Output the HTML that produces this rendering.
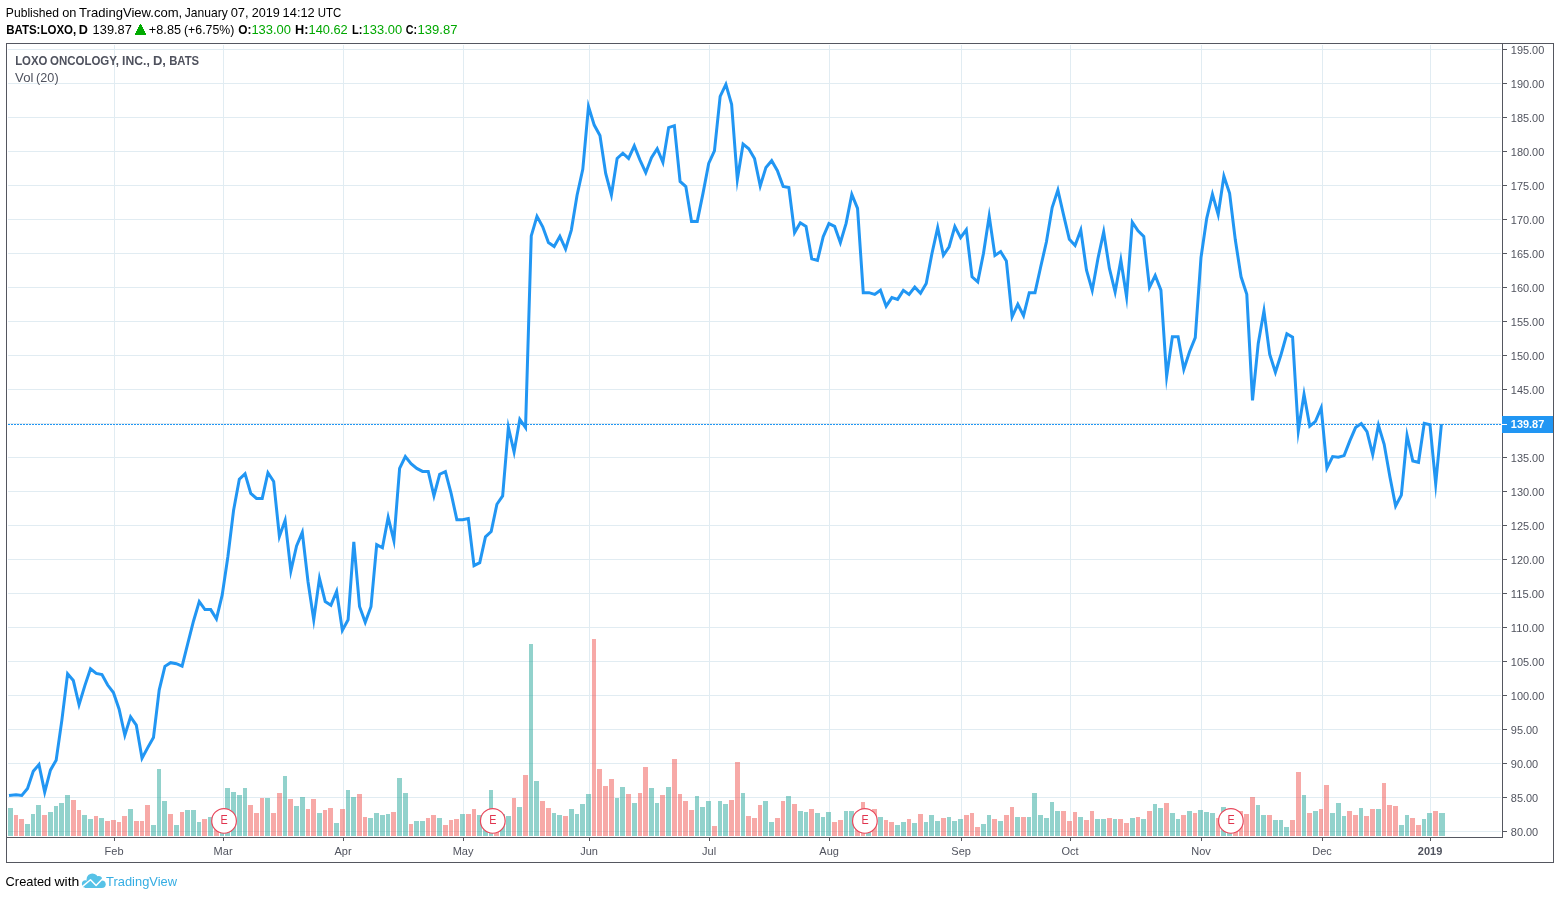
<!DOCTYPE html>
<html lang="en"><head><meta charset="utf-8"><title>LOXO ONCOLOGY, INC. - TradingView</title>
<style>
html,body{margin:0;padding:0;background:#fff;}
body{width:1560px;height:899px;overflow:hidden;font-family:"Liberation Sans",sans-serif;}
svg{display:block;position:absolute;left:0;top:0;}
text{font-family:"Liberation Sans",sans-serif;}
.hd{font-size:12.4px;fill:#000;}
.b{font-weight:bold;}
.g{fill:#089a08;}
.ax{font-size:11px;fill:#50535e;}
.lg{font-size:12.2px;fill:#555;}
</style></head><body>
<svg width="1560" height="899" viewBox="0 0 1560 899">
<rect width="1560" height="899" fill="#fff"/>
<g shape-rendering="crispEdges" fill="#e1ecf2"><rect x="8" y="49" width="1493" height="1"/><rect x="8" y="83" width="1493" height="1"/><rect x="8" y="117" width="1493" height="1"/><rect x="8" y="151" width="1493" height="1"/><rect x="8" y="185" width="1493" height="1"/><rect x="8" y="219" width="1493" height="1"/><rect x="8" y="253" width="1493" height="1"/><rect x="8" y="287" width="1493" height="1"/><rect x="8" y="321" width="1493" height="1"/><rect x="8" y="355" width="1493" height="1"/><rect x="8" y="389" width="1493" height="1"/><rect x="8" y="423" width="1493" height="1"/><rect x="8" y="457" width="1493" height="1"/><rect x="8" y="491" width="1493" height="1"/><rect x="8" y="525" width="1493" height="1"/><rect x="8" y="559" width="1493" height="1"/><rect x="8" y="593" width="1493" height="1"/><rect x="8" y="627" width="1493" height="1"/><rect x="8" y="661" width="1493" height="1"/><rect x="8" y="695" width="1493" height="1"/><rect x="8" y="729" width="1493" height="1"/><rect x="8" y="763" width="1493" height="1"/><rect x="8" y="797" width="1493" height="1"/><rect x="8" y="831" width="1493" height="1"/><rect x="114" y="45" width="1" height="791"/><rect x="223" y="45" width="1" height="791"/><rect x="343" y="45" width="1" height="791"/><rect x="463" y="45" width="1" height="791"/><rect x="589" y="45" width="1" height="791"/><rect x="709" y="45" width="1" height="791"/><rect x="829" y="45" width="1" height="791"/><rect x="961" y="45" width="1" height="791"/><rect x="1070" y="45" width="1" height="791"/><rect x="1201" y="45" width="1" height="791"/><rect x="1322" y="45" width="1" height="791"/><rect x="1430" y="45" width="1" height="791"/></g>
<g shape-rendering="crispEdges" fill="#26a69a" fill-opacity="0.5"><rect x="8" y="808" width="5" height="28"/><rect x="25" y="824" width="5" height="12"/><rect x="31" y="814" width="4" height="22"/><rect x="36" y="805" width="5" height="31"/><rect x="48" y="812" width="5" height="24"/><rect x="54" y="806" width="4" height="30"/><rect x="59" y="803" width="5" height="33"/><rect x="65" y="795" width="5" height="41"/><rect x="82" y="815" width="5" height="21"/><rect x="88" y="819" width="5" height="17"/><rect x="99" y="818" width="5" height="18"/><rect x="128" y="809" width="5" height="27"/><rect x="151" y="825" width="5" height="11"/><rect x="157" y="769" width="4" height="67"/><rect x="162" y="801" width="5" height="35"/><rect x="174" y="825" width="5" height="11"/><rect x="185" y="810" width="5" height="26"/><rect x="191" y="810" width="5" height="26"/><rect x="197" y="822" width="4" height="14"/><rect x="208" y="817" width="5" height="19"/><rect x="220" y="818" width="4" height="18"/><rect x="225" y="788" width="5" height="48"/><rect x="231" y="792" width="5" height="44"/><rect x="237" y="795" width="5" height="41"/><rect x="243" y="788" width="4" height="48"/><rect x="265" y="798" width="5" height="38"/><rect x="283" y="776" width="4" height="60"/><rect x="294" y="806" width="5" height="30"/><rect x="300" y="797" width="5" height="39"/><rect x="317" y="813" width="5" height="23"/><rect x="334" y="823" width="5" height="13"/><rect x="346" y="790" width="4" height="46"/><rect x="351" y="797" width="5" height="39"/><rect x="368" y="818" width="5" height="18"/><rect x="374" y="813" width="5" height="23"/><rect x="380" y="815" width="5" height="21"/><rect x="386" y="814" width="4" height="22"/><rect x="397" y="778" width="5" height="58"/><rect x="403" y="793" width="5" height="43"/><rect x="414" y="821" width="5" height="15"/><rect x="420" y="821" width="5" height="15"/><rect x="437" y="818" width="5" height="18"/><rect x="460" y="814" width="5" height="22"/><rect x="477" y="815" width="5" height="21"/><rect x="483" y="816" width="5" height="20"/><rect x="489" y="790" width="4" height="46"/><rect x="500" y="814" width="5" height="22"/><rect x="506" y="816" width="5" height="20"/><rect x="517" y="807" width="5" height="29"/><rect x="529" y="644" width="4" height="192"/><rect x="534" y="781" width="5" height="55"/><rect x="552" y="813" width="4" height="23"/><rect x="557" y="815" width="5" height="21"/><rect x="569" y="809" width="5" height="27"/><rect x="575" y="814" width="4" height="22"/><rect x="580" y="804" width="5" height="32"/><rect x="586" y="794" width="5" height="42"/><rect x="615" y="798" width="4" height="38"/><rect x="620" y="787" width="5" height="49"/><rect x="632" y="803" width="5" height="33"/><rect x="649" y="788" width="5" height="48"/><rect x="655" y="803" width="4" height="33"/><rect x="666" y="787" width="5" height="49"/><rect x="695" y="796" width="4" height="40"/><rect x="700" y="807" width="5" height="29"/><rect x="706" y="801" width="5" height="35"/><rect x="718" y="801" width="4" height="35"/><rect x="723" y="804" width="5" height="32"/><rect x="741" y="793" width="4" height="43"/><rect x="763" y="801" width="5" height="35"/><rect x="769" y="822" width="5" height="14"/><rect x="786" y="796" width="5" height="40"/><rect x="798" y="811" width="5" height="25"/><rect x="804" y="812" width="4" height="24"/><rect x="815" y="813" width="5" height="23"/><rect x="821" y="817" width="4" height="19"/><rect x="826" y="812" width="5" height="24"/><rect x="844" y="811" width="4" height="25"/><rect x="849" y="811" width="5" height="25"/><rect x="866" y="818" width="5" height="18"/><rect x="878" y="817" width="5" height="19"/><rect x="895" y="825" width="5" height="11"/><rect x="901" y="822" width="5" height="14"/><rect x="912" y="823" width="5" height="13"/><rect x="924" y="822" width="4" height="14"/><rect x="929" y="815" width="5" height="21"/><rect x="935" y="821" width="5" height="15"/><rect x="947" y="817" width="4" height="19"/><rect x="952" y="821" width="5" height="15"/><rect x="958" y="819" width="5" height="17"/><rect x="981" y="824" width="5" height="12"/><rect x="987" y="815" width="4" height="21"/><rect x="998" y="821" width="5" height="15"/><rect x="1015" y="817" width="5" height="19"/><rect x="1027" y="817" width="4" height="19"/><rect x="1032" y="793" width="5" height="43"/><rect x="1038" y="815" width="5" height="21"/><rect x="1044" y="818" width="5" height="18"/><rect x="1050" y="802" width="4" height="34"/><rect x="1055" y="811" width="5" height="25"/><rect x="1078" y="817" width="5" height="19"/><rect x="1095" y="819" width="5" height="17"/><rect x="1101" y="819" width="5" height="17"/><rect x="1113" y="819" width="4" height="17"/><rect x="1130" y="818" width="5" height="18"/><rect x="1141" y="819" width="5" height="17"/><rect x="1153" y="804" width="4" height="32"/><rect x="1158" y="808" width="5" height="28"/><rect x="1170" y="813" width="5" height="23"/><rect x="1176" y="819" width="4" height="17"/><rect x="1187" y="811" width="5" height="25"/><rect x="1198" y="810" width="5" height="26"/><rect x="1204" y="812" width="5" height="24"/><rect x="1210" y="813" width="5" height="23"/><rect x="1221" y="807" width="5" height="29"/><rect x="1227" y="816" width="5" height="20"/><rect x="1256" y="805" width="4" height="31"/><rect x="1261" y="815" width="5" height="21"/><rect x="1273" y="820" width="5" height="16"/><rect x="1279" y="820" width="4" height="16"/><rect x="1284" y="827" width="5" height="9"/><rect x="1302" y="795" width="4" height="41"/><rect x="1313" y="811" width="5" height="25"/><rect x="1330" y="813" width="5" height="23"/><rect x="1336" y="803" width="5" height="33"/><rect x="1342" y="816" width="4" height="20"/><rect x="1359" y="808" width="4" height="28"/><rect x="1376" y="809" width="5" height="27"/><rect x="1399" y="825" width="5" height="11"/><rect x="1405" y="815" width="4" height="21"/><rect x="1422" y="819" width="4" height="17"/><rect x="1427" y="813" width="5" height="23"/><rect x="1439" y="813" width="6" height="23"/></g>
<g shape-rendering="crispEdges" fill="#ef5350" fill-opacity="0.5"><rect x="14" y="815" width="4" height="21"/><rect x="19" y="819" width="5" height="17"/><rect x="42" y="815" width="5" height="21"/><rect x="71" y="800" width="5" height="36"/><rect x="77" y="810" width="4" height="26"/><rect x="94" y="816" width="4" height="20"/><rect x="105" y="821" width="5" height="15"/><rect x="111" y="820" width="5" height="16"/><rect x="117" y="822" width="4" height="14"/><rect x="122" y="816" width="5" height="20"/><rect x="134" y="821" width="5" height="15"/><rect x="140" y="821" width="4" height="15"/><rect x="145" y="805" width="5" height="31"/><rect x="168" y="814" width="5" height="22"/><rect x="180" y="812" width="4" height="24"/><rect x="202" y="819" width="5" height="17"/><rect x="214" y="820" width="5" height="16"/><rect x="248" y="805" width="5" height="31"/><rect x="254" y="813" width="5" height="23"/><rect x="260" y="798" width="4" height="38"/><rect x="271" y="813" width="5" height="23"/><rect x="277" y="793" width="5" height="43"/><rect x="288" y="799" width="5" height="37"/><rect x="306" y="809" width="4" height="27"/><rect x="311" y="799" width="5" height="37"/><rect x="323" y="810" width="4" height="26"/><rect x="328" y="808" width="5" height="28"/><rect x="340" y="809" width="5" height="27"/><rect x="357" y="794" width="5" height="42"/><rect x="363" y="817" width="4" height="19"/><rect x="391" y="812" width="5" height="24"/><rect x="409" y="824" width="4" height="12"/><rect x="426" y="818" width="4" height="18"/><rect x="431" y="815" width="5" height="21"/><rect x="443" y="825" width="5" height="11"/><rect x="449" y="820" width="4" height="16"/><rect x="454" y="819" width="5" height="17"/><rect x="466" y="814" width="5" height="22"/><rect x="472" y="809" width="4" height="27"/><rect x="494" y="818" width="5" height="18"/><rect x="512" y="798" width="4" height="38"/><rect x="523" y="775" width="5" height="61"/><rect x="540" y="801" width="5" height="35"/><rect x="546" y="808" width="5" height="28"/><rect x="563" y="816" width="5" height="20"/><rect x="592" y="639" width="4" height="197"/><rect x="597" y="769" width="5" height="67"/><rect x="603" y="786" width="5" height="50"/><rect x="609" y="779" width="5" height="57"/><rect x="626" y="794" width="5" height="42"/><rect x="638" y="793" width="4" height="43"/><rect x="643" y="767" width="5" height="69"/><rect x="660" y="795" width="5" height="41"/><rect x="672" y="759" width="5" height="77"/><rect x="678" y="794" width="4" height="42"/><rect x="683" y="801" width="5" height="35"/><rect x="689" y="810" width="5" height="26"/><rect x="712" y="826" width="5" height="10"/><rect x="729" y="800" width="5" height="36"/><rect x="735" y="762" width="5" height="74"/><rect x="746" y="816" width="5" height="20"/><rect x="752" y="818" width="5" height="18"/><rect x="758" y="805" width="4" height="31"/><rect x="775" y="818" width="5" height="18"/><rect x="781" y="801" width="4" height="35"/><rect x="792" y="804" width="5" height="32"/><rect x="809" y="809" width="5" height="27"/><rect x="832" y="822" width="5" height="14"/><rect x="838" y="820" width="5" height="16"/><rect x="855" y="816" width="5" height="20"/><rect x="861" y="802" width="4" height="34"/><rect x="872" y="809" width="5" height="27"/><rect x="884" y="820" width="4" height="16"/><rect x="889" y="822" width="5" height="14"/><rect x="907" y="819" width="4" height="17"/><rect x="918" y="814" width="5" height="22"/><rect x="941" y="818" width="5" height="18"/><rect x="964" y="815" width="5" height="21"/><rect x="970" y="813" width="4" height="23"/><rect x="975" y="827" width="5" height="9"/><rect x="992" y="819" width="5" height="17"/><rect x="1004" y="815" width="5" height="21"/><rect x="1010" y="807" width="4" height="29"/><rect x="1021" y="817" width="5" height="19"/><rect x="1061" y="811" width="5" height="25"/><rect x="1067" y="821" width="5" height="15"/><rect x="1073" y="812" width="4" height="24"/><rect x="1084" y="820" width="5" height="16"/><rect x="1090" y="811" width="4" height="25"/><rect x="1107" y="818" width="5" height="18"/><rect x="1118" y="819" width="5" height="17"/><rect x="1124" y="823" width="5" height="13"/><rect x="1136" y="817" width="4" height="19"/><rect x="1147" y="811" width="5" height="25"/><rect x="1164" y="803" width="5" height="33"/><rect x="1181" y="815" width="5" height="21"/><rect x="1193" y="813" width="4" height="23"/><rect x="1216" y="818" width="4" height="18"/><rect x="1233" y="815" width="5" height="21"/><rect x="1239" y="811" width="4" height="25"/><rect x="1244" y="814" width="5" height="22"/><rect x="1250" y="797" width="5" height="39"/><rect x="1267" y="815" width="5" height="21"/><rect x="1290" y="820" width="5" height="16"/><rect x="1296" y="772" width="5" height="64"/><rect x="1307" y="813" width="5" height="23"/><rect x="1319" y="809" width="4" height="27"/><rect x="1324" y="785" width="5" height="51"/><rect x="1347" y="811" width="5" height="25"/><rect x="1353" y="815" width="5" height="21"/><rect x="1364" y="816" width="5" height="20"/><rect x="1370" y="809" width="5" height="27"/><rect x="1382" y="783" width="4" height="53"/><rect x="1387" y="805" width="5" height="31"/><rect x="1393" y="806" width="5" height="30"/><rect x="1410" y="818" width="5" height="18"/><rect x="1416" y="825" width="5" height="11"/><rect x="1433" y="811" width="5" height="25"/></g>
<line x1="8" y1="424.5" x2="1501" y2="424.5" stroke="#2196f3" stroke-width="1" stroke-dasharray="2 1" shape-rendering="crispEdges"/>
<path d="M9.00 795.52 L16.08 794.66 L21.81 795.39 L27.53 788.51 L33.26 771.32 L38.98 764.62 L44.71 792.17 L50.43 770.15 L56.15 760.14 L61.88 720.09 L67.60 673.87 L73.33 680.54 L79.05 704.74 L84.77 685.88 L90.50 668.85 L96.22 673.36 L101.95 674.53 L107.67 685.04 L113.40 692.55 L119.12 709.24 L124.84 735.21 L130.57 716.80 L136.29 725.10 L142.02 758.18 L147.74 747.63 L153.46 737.61 L159.19 690.05 L164.91 666.35 L170.64 662.66 L176.36 663.68 L182.09 666.20 L187.81 643.49 L193.53 620.96 L199.26 601.63 L204.98 609.61 L210.71 609.61 L216.43 618.87 L222.16 595.10 L227.88 556.71 L233.60 510.12 L239.33 479.24 L245.05 473.79 L250.78 493.43 L256.50 498.43 L262.22 498.43 L267.95 472.76 L273.67 481.41 L279.40 536.39 L285.12 520.32 L290.85 570.97 L296.57 545.99 L302.29 532.41 L308.02 581.75 L313.74 619.72 L319.47 578.36 L325.19 601.44 L330.92 605.16 L336.64 591.43 L342.36 630.37 L348.09 619.79 L353.81 541.94 L359.54 606.44 L365.26 622.28 L370.98 606.78 L376.71 544.60 L382.43 547.71 L388.16 517.36 L393.88 540.56 L399.61 468.40 L405.33 456.60 L411.05 463.72 L416.78 468.40 L422.50 471.40 L428.23 471.40 L433.95 495.76 L439.68 474.24 L445.40 471.58 L451.12 493.43 L456.85 519.63 L462.57 519.63 L468.30 518.46 L474.02 565.67 L479.74 562.68 L485.47 536.82 L491.19 531.48 L496.92 504.27 L502.64 495.93 L508.37 427.39 L514.09 452.08 L519.81 419.26 L525.54 427.60 L531.26 235.93 L536.99 216.36 L542.71 226.75 L548.43 242.61 L554.16 246.54 L559.88 236.27 L565.61 249.01 L571.33 230.09 L577.06 195.20 L582.78 169.31 L588.50 106.50 L594.23 125.08 L599.95 135.43 L605.68 173.48 L611.40 194.95 L617.13 158.46 L622.85 153.25 L628.57 158.47 L634.30 145.84 L640.02 160.13 L645.75 172.69 L651.47 157.63 L657.19 148.68 L662.92 162.29 L668.64 127.59 L674.37 125.67 L680.09 181.49 L685.82 186.50 L691.54 221.41 L697.26 221.41 L702.99 193.38 L708.71 163.47 L714.44 150.95 L720.16 96.38 L725.88 84.41 L731.61 104.22 L737.33 179.55 L743.06 144.16 L748.78 148.78 L754.51 158.46 L760.23 185.97 L765.95 167.41 L771.68 160.70 L777.40 170.66 L783.13 186.35 L788.85 187.60 L794.58 232.58 L800.30 222.76 L806.02 226.42 L811.75 258.79 L817.47 260.48 L823.20 236.77 L828.92 223.55 L834.64 226.42 L840.37 242.69 L846.09 223.41 L851.82 194.40 L857.54 208.40 L863.27 292.67 L868.99 292.67 L874.71 294.34 L880.44 290.17 L886.16 306.20 L891.89 297.60 L897.61 299.42 L903.34 290.39 L909.06 294.52 L914.78 287.18 L920.51 293.34 L926.23 283.49 L931.96 253.45 L937.68 227.72 L943.40 255.26 L949.13 246.78 L954.85 226.52 L960.58 237.65 L966.30 229.77 L972.03 276.82 L977.75 281.89 L983.47 253.45 L989.20 216.05 L994.92 255.42 L1000.65 251.62 L1006.37 260.95 L1012.09 316.85 L1017.82 304.29 L1023.54 315.73 L1029.27 292.66 L1034.99 292.66 L1040.72 266.79 L1046.44 241.76 L1052.16 207.55 L1057.89 190.06 L1063.61 215.06 L1069.34 239.26 L1075.06 245.51 L1080.79 230.14 L1086.51 270.13 L1092.23 290.40 L1097.96 258.45 L1103.68 231.92 L1109.41 268.46 L1115.13 292.08 L1120.85 260.18 L1126.58 296.84 L1132.30 222.19 L1138.03 230.91 L1143.75 236.42 L1149.48 287.34 L1155.20 275.48 L1160.92 290.15 L1166.65 376.50 L1172.37 336.74 L1178.10 336.74 L1183.82 369.28 L1189.55 351.76 L1195.27 337.57 L1200.99 257.61 L1206.72 218.40 L1212.44 194.21 L1218.17 214.58 L1223.89 176.21 L1229.61 193.36 L1235.34 240.09 L1241.06 276.80 L1246.79 294.33 L1252.51 400.37 L1258.24 343.41 L1263.96 310.79 L1269.68 354.26 L1275.41 372.29 L1281.13 354.26 L1286.86 333.74 L1292.58 337.24 L1298.30 430.97 L1304.03 394.25 L1309.75 426.13 L1315.48 421.37 L1321.20 407.76 L1326.93 468.10 L1332.65 456.56 L1338.37 457.29 L1344.10 455.60 L1349.82 440.91 L1355.55 427.56 L1361.27 423.56 L1367.00 431.73 L1372.72 454.65 L1378.44 425.28 L1384.17 444.25 L1389.89 476.79 L1395.62 506.06 L1401.34 495.15 L1407.06 435.49 L1412.79 460.94 L1418.51 462.32 L1424.24 423.34 L1429.96 424.72 L1435.69 483.78 L1441.41 424.06" fill="none" stroke="#2196f3" stroke-width="3" stroke-linejoin="miter" stroke-miterlimit="11.5" stroke-linecap="butt"/>
<circle cx="224.05" cy="820.9" r="12.35" fill="#fff" stroke="#e8485c" stroke-width="1.2"/><text x="220.60000000000002" y="824" font-size="12.4" fill="#e0344e" textLength="7.2" lengthAdjust="spacingAndGlyphs">E</text>
<circle cx="492.8" cy="820.9" r="12.35" fill="#fff" stroke="#e8485c" stroke-width="1.2"/><text x="489.35" y="824" font-size="12.4" fill="#e0344e" textLength="7.2" lengthAdjust="spacingAndGlyphs">E</text>
<circle cx="864.9" cy="820.9" r="12.35" fill="#fff" stroke="#e8485c" stroke-width="1.2"/><text x="861.4499999999999" y="824" font-size="12.4" fill="#e0344e" textLength="7.2" lengthAdjust="spacingAndGlyphs">E</text>
<circle cx="1230.9" cy="820.9" r="12.35" fill="#fff" stroke="#e8485c" stroke-width="1.2"/><text x="1227.45" y="824" font-size="12.4" fill="#e0344e" textLength="7.2" lengthAdjust="spacingAndGlyphs">E</text>
<g shape-rendering="crispEdges" fill="#555760"><rect x="6" y="43" width="1548" height="1"/><rect x="6" y="862" width="1548" height="1"/><rect x="6" y="43" width="1" height="820"/><rect x="1553" y="43" width="1" height="820"/><rect x="1502" y="43" width="1" height="795"/><rect x="6" y="837" width="1497" height="1"/><rect x="1503" y="49" width="4" height="1"/><rect x="1503" y="83" width="4" height="1"/><rect x="1503" y="117" width="4" height="1"/><rect x="1503" y="151" width="4" height="1"/><rect x="1503" y="185" width="4" height="1"/><rect x="1503" y="219" width="4" height="1"/><rect x="1503" y="253" width="4" height="1"/><rect x="1503" y="287" width="4" height="1"/><rect x="1503" y="321" width="4" height="1"/><rect x="1503" y="355" width="4" height="1"/><rect x="1503" y="389" width="4" height="1"/><rect x="1503" y="423" width="4" height="1"/><rect x="1503" y="457" width="4" height="1"/><rect x="1503" y="491" width="4" height="1"/><rect x="1503" y="525" width="4" height="1"/><rect x="1503" y="559" width="4" height="1"/><rect x="1503" y="593" width="4" height="1"/><rect x="1503" y="627" width="4" height="1"/><rect x="1503" y="661" width="4" height="1"/><rect x="1503" y="695" width="4" height="1"/><rect x="1503" y="729" width="4" height="1"/><rect x="1503" y="763" width="4" height="1"/><rect x="1503" y="797" width="4" height="1"/><rect x="1503" y="831" width="4" height="1"/><rect x="114" y="838" width="1" height="3"/><rect x="223" y="838" width="1" height="3"/><rect x="343" y="838" width="1" height="3"/><rect x="463" y="838" width="1" height="3"/><rect x="589" y="838" width="1" height="3"/><rect x="709" y="838" width="1" height="3"/><rect x="829" y="838" width="1" height="3"/><rect x="961" y="838" width="1" height="3"/><rect x="1070" y="838" width="1" height="3"/><rect x="1201" y="838" width="1" height="3"/><rect x="1322" y="838" width="1" height="3"/><rect x="1430" y="838" width="1" height="3"/></g>
<text class="ax" x="1510.8" y="54" textLength="33.5" lengthAdjust="spacingAndGlyphs">195.00</text>
<text class="ax" x="1510.8" y="88" textLength="33.5" lengthAdjust="spacingAndGlyphs">190.00</text>
<text class="ax" x="1510.8" y="122" textLength="33.5" lengthAdjust="spacingAndGlyphs">185.00</text>
<text class="ax" x="1510.8" y="156" textLength="33.5" lengthAdjust="spacingAndGlyphs">180.00</text>
<text class="ax" x="1510.8" y="190" textLength="33.5" lengthAdjust="spacingAndGlyphs">175.00</text>
<text class="ax" x="1510.8" y="224" textLength="33.5" lengthAdjust="spacingAndGlyphs">170.00</text>
<text class="ax" x="1510.8" y="258" textLength="33.5" lengthAdjust="spacingAndGlyphs">165.00</text>
<text class="ax" x="1510.8" y="292" textLength="33.5" lengthAdjust="spacingAndGlyphs">160.00</text>
<text class="ax" x="1510.8" y="326" textLength="33.5" lengthAdjust="spacingAndGlyphs">155.00</text>
<text class="ax" x="1510.8" y="360" textLength="33.5" lengthAdjust="spacingAndGlyphs">150.00</text>
<text class="ax" x="1510.8" y="394" textLength="33.5" lengthAdjust="spacingAndGlyphs">145.00</text>
<text class="ax" x="1510.8" y="428" textLength="33.5" lengthAdjust="spacingAndGlyphs">140.00</text>
<text class="ax" x="1510.8" y="462" textLength="33.5" lengthAdjust="spacingAndGlyphs">135.00</text>
<text class="ax" x="1510.8" y="496" textLength="33.5" lengthAdjust="spacingAndGlyphs">130.00</text>
<text class="ax" x="1510.8" y="530" textLength="33.5" lengthAdjust="spacingAndGlyphs">125.00</text>
<text class="ax" x="1510.8" y="564" textLength="33.5" lengthAdjust="spacingAndGlyphs">120.00</text>
<text class="ax" x="1510.8" y="598" textLength="33.5" lengthAdjust="spacingAndGlyphs">115.00</text>
<text class="ax" x="1510.8" y="632" textLength="33.5" lengthAdjust="spacingAndGlyphs">110.00</text>
<text class="ax" x="1510.8" y="666" textLength="33.5" lengthAdjust="spacingAndGlyphs">105.00</text>
<text class="ax" x="1510.8" y="700" textLength="33.5" lengthAdjust="spacingAndGlyphs">100.00</text>
<text class="ax" x="1510.8" y="734" textLength="27.4" lengthAdjust="spacingAndGlyphs">95.00</text>
<text class="ax" x="1510.8" y="768" textLength="27.4" lengthAdjust="spacingAndGlyphs">90.00</text>
<text class="ax" x="1510.8" y="802" textLength="27.4" lengthAdjust="spacingAndGlyphs">85.00</text>
<text class="ax" x="1510.8" y="836" textLength="27.4" lengthAdjust="spacingAndGlyphs">80.00</text>
<rect x="1502" y="416" width="51" height="17" fill="#2196f3" shape-rendering="crispEdges"/>
<rect x="1502" y="424" width="5" height="1" fill="#fff" shape-rendering="crispEdges"/>
<text x="1510.8" y="428" font-size="11" font-weight="bold" fill="#fff" textLength="33.5" lengthAdjust="spacingAndGlyphs">139.87</text>
<text class="ax" x="114.1" y="855" text-anchor="middle">Feb</text>
<text class="ax" x="223.1" y="855" text-anchor="middle">Mar</text>
<text class="ax" x="343.1" y="855" text-anchor="middle">Apr</text>
<text class="ax" x="463.1" y="855" text-anchor="middle">May</text>
<text class="ax" x="589.1" y="855" text-anchor="middle">Jun</text>
<text class="ax" x="709.1" y="855" text-anchor="middle">Jul</text>
<text class="ax" x="829.1" y="855" text-anchor="middle">Aug</text>
<text class="ax" x="961.1" y="855" text-anchor="middle">Sep</text>
<text class="ax" x="1070.1" y="855" text-anchor="middle">Oct</text>
<text class="ax" x="1201.1" y="855" text-anchor="middle">Nov</text>
<text class="ax" x="1322.1" y="855" text-anchor="middle">Dec</text>
<text class="ax" x="1430.1" y="855" text-anchor="middle" font-weight="bold">2019</text>
<text x="5.88" y="17" font-size="11.9" fill="#000" textLength="53.17" lengthAdjust="spacingAndGlyphs">Published</text>
<text x="62.16" y="17" font-size="11.9" fill="#000" textLength="14.23" lengthAdjust="spacingAndGlyphs">on</text>
<text x="79.13" y="17" font-size="11.9" fill="#000" textLength="103.09" lengthAdjust="spacingAndGlyphs">TradingView.com,</text>
<text x="184.75" y="17" font-size="11.9" fill="#000" textLength="43.02" lengthAdjust="spacingAndGlyphs">January</text>
<text x="230.66" y="17" font-size="11.9" fill="#000" textLength="17.96" lengthAdjust="spacingAndGlyphs">07,</text>
<text x="251.67" y="17" font-size="11.9" fill="#000" textLength="28.08" lengthAdjust="spacingAndGlyphs">2019</text>
<text x="282.62" y="17" font-size="11.9" fill="#000" textLength="32.14" lengthAdjust="spacingAndGlyphs">14:12</text>
<text x="317.63" y="17" font-size="11.9" fill="#000" textLength="23.59" lengthAdjust="spacingAndGlyphs">UTC</text>
<text x="6.17" y="34" font-size="11.9" font-weight="bold" fill="#000" textLength="70.11" lengthAdjust="spacingAndGlyphs">BATS:LOXO,</text>
<text x="78.80" y="34" font-size="11.9" font-weight="bold" fill="#000" textLength="9.13" lengthAdjust="spacingAndGlyphs">D</text>
<text x="92.62" y="34" font-size="11.9" fill="#000" textLength="39.25" lengthAdjust="spacingAndGlyphs">139.87</text>
<g fill="#00aa00" shape-rendering="crispEdges"><rect x="140" y="24" width="1" height="1"/><rect x="139" y="25" width="3" height="2"/><rect x="138" y="27" width="5" height="2"/><rect x="137" y="29" width="7" height="2"/><rect x="136" y="31" width="9" height="2"/><rect x="135" y="33" width="11" height="2"/></g>
<text x="148.87" y="34" font-size="11.9" fill="#000" textLength="32.17" lengthAdjust="spacingAndGlyphs">+8.85</text>
<text x="184.02" y="34" font-size="11.9" fill="#000" textLength="50.35" lengthAdjust="spacingAndGlyphs">(+6.75%)</text>
<text x="238.20" y="34" font-size="11.9" font-weight="bold" fill="#000" textLength="13.22" lengthAdjust="spacingAndGlyphs">O:</text>
<text x="251.41" y="34" font-size="11.9" fill="#00a800" textLength="39.60" lengthAdjust="spacingAndGlyphs">133.00</text>
<text x="295.00" y="34" font-size="11.9" font-weight="bold" fill="#000" textLength="13.42" lengthAdjust="spacingAndGlyphs">H:</text>
<text x="308.52" y="34" font-size="11.9" fill="#00a800" textLength="39.25" lengthAdjust="spacingAndGlyphs">140.62</text>
<text x="352.00" y="34" font-size="11.9" font-weight="bold" fill="#000" textLength="10.44" lengthAdjust="spacingAndGlyphs">L:</text>
<text x="362.61" y="34" font-size="11.9" fill="#00a800" textLength="39.49" lengthAdjust="spacingAndGlyphs">133.00</text>
<text x="405.85" y="34" font-size="11.9" font-weight="bold" fill="#000" textLength="11.29" lengthAdjust="spacingAndGlyphs">C:</text>
<text x="417.60" y="34" font-size="11.9" fill="#00a800" textLength="39.88" lengthAdjust="spacingAndGlyphs">139.87</text>
<text x="15.13" y="65" font-size="12.7" font-weight="bold" fill="#4f525e" textLength="32.28" lengthAdjust="spacingAndGlyphs">LOXO</text>
<text x="49.95" y="65" font-size="12.7" font-weight="bold" fill="#4f525e" textLength="68.96" lengthAdjust="spacingAndGlyphs">ONCOLOGY,</text>
<text x="122.08" y="65" font-size="12.7" font-weight="bold" fill="#4f525e" textLength="27.79" lengthAdjust="spacingAndGlyphs">INC.,</text>
<text x="152.93" y="65" font-size="12.7" font-weight="bold" fill="#4f525e" textLength="12.97" lengthAdjust="spacingAndGlyphs">D,</text>
<text x="169.23" y="65" font-size="12.7" font-weight="bold" fill="#4f525e" textLength="29.91" lengthAdjust="spacingAndGlyphs">BATS</text>
<text x="15.10" y="82" font-size="12.4" fill="#4f525e" textLength="18.28" lengthAdjust="spacingAndGlyphs">Vol</text>
<text x="36.14" y="82" font-size="12.4" fill="#4f525e" textLength="22.48" lengthAdjust="spacingAndGlyphs">(20)</text>
<text x="5.62" y="886" font-size="12.4" fill="#000" textLength="45.65" lengthAdjust="spacingAndGlyphs">Created</text>
<text x="54.50" y="886" font-size="12.4" fill="#000" textLength="24.90" lengthAdjust="spacingAndGlyphs">with</text>
<g fill="#57c2e7"><circle cx="85.5" cy="883.9" r="3.6"/><circle cx="92.4" cy="879.2" r="5.8"/><circle cx="98.6" cy="879.6" r="3.6"/><circle cx="101.9" cy="884.2" r="3.8"/><rect x="85" y="881" width="17" height="7"/></g><path d="M82.0 886.9 L90.5 879.7 L96.1 885.5 L103.6 877.8" fill="none" stroke="#fff" stroke-width="1.5" stroke-linejoin="round"/>
<text x="106.14" y="886" font-size="12.2" fill="#35ade3" textLength="70.85" lengthAdjust="spacingAndGlyphs">TradingView</text>
</svg></body></html>
